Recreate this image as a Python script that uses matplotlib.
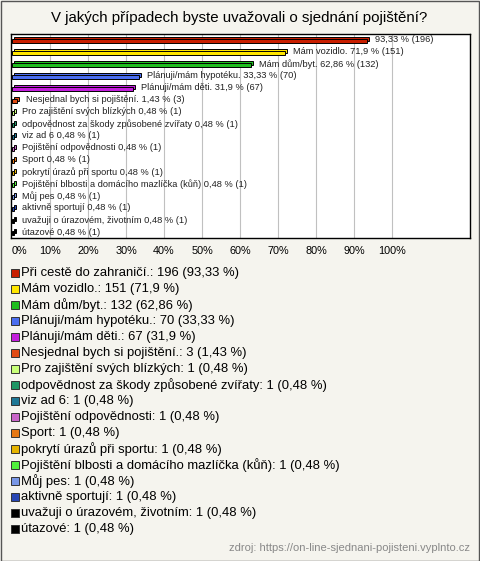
import matplotlib
matplotlib.use("Agg")
import matplotlib.pyplot as plt
from matplotlib.patches import Rectangle

plt.rcParams['font.family'] = ['Liberation Sans', 'DejaVu Sans']

title = "V jakých případech byste uvažovali o sjednání pojištění?"
categories = [
    "Při cestě do zahraničí.", "Mám vozidlo.", "Mám dům/byt.", "Plánuji/mám hypotéku.",
    "Plánuji/mám děti.", "Nesjednal bych si pojištění.", "Pro zajištění svých blízkých",
    "odpovědnost za škody způsobené zvířaty", "viz ad 6", "Pojištění odpovědnosti",
    "Sport", "pokrytí úrazů při sportu", "Pojištění blbosti a domácího mazlíčka (kůň)",
    "Můj pes", "aktivně sportují", "uvažuji o úrazovém, životním", "útazové",
]
counts = [196, 151, 132, 70, 67, 3, 1, 1, 1, 1, 1, 1, 1, 1, 1, 1, 1]
percents = [93.33, 71.9, 62.86, 33.33, 31.9, 1.43, 0.48, 0.48, 0.48, 0.48, 0.48,
            0.48, 0.48, 0.48, 0.48, 0.48, 0.48]
colors = ["#C81E00", "#FFE600", "#1EBE1E", "#4B6EF0", "#C31EDC", "#E14B14", "#C8FF78",
          "#1E9664", "#1E7896", "#C864C8", "#E67814", "#E6B400", "#50F03C", "#7896E6",
          "#2846B4", "#000000", "#000000"]
xticks = [0, 10, 20, 30, 40, 50, 60, 70, 80, 90, 100]
source = "zdroj: https://on-line-sjednani-pojisteni.vyplnto.cz"

def fmt(v):
    s = f"{v:.2f}".rstrip("0").rstrip(".")
    return s.replace(".", ",")

W, H = 480, 561
fig = plt.figure(figsize=(W / 100, H / 100), dpi=100)
fig.patch.set_facecolor("#F5F4EE")
fig.patches.append(Rectangle((0.5 / W, 0.5 / H), (W - 1.5) / W, (H - 1.5) / H,
                             transform=fig.transFigure, fill=False,
                             edgecolor="#555555", linewidth=1))

fig.text(239 / W, 1 - 18 / H, title, ha="center", va="center", fontsize=10.8)

# plot area
left_px, right_px, top_px, bot_px = 11, 470, 34, 238
ax = fig.add_axes([left_px / W, 1 - bot_px / H, (right_px - left_px) / W, (bot_px - top_px) / H])
ax.set_facecolor("white")
px_x = 3.8  # px per percent
x0 = -1 / px_x
ax.set_xlim(x0, x0 + (right_px - left_px) / px_x)
n = len(categories)
ax.set_ylim(n - 1 + 5 / 12, -7 / 12)
for s in ax.spines.values():
    s.set_color("black")
    s.set_linewidth(1)
ax.set_xticks([])
ax.set_yticks([])
for t in xticks[1:]:
    ax.axvline(t, color="#C0C0C0", linewidth=0.8, zorder=0)

ys = list(range(n))
h = 4 / 12
dx = 2 / px_x
dy = 2 / 12
ax.barh([y - dy for y in ys], percents, left=dx, height=h, color=colors,
        edgecolor="black", linewidth=0.7, zorder=2)
ax.barh(ys, percents, left=0, height=h, color=colors, edgecolor="black",
        linewidth=0.7, zorder=3)

for i, (c, p, k) in enumerate(zip(categories, percents, counts)):
    lab = f"{fmt(p)} % ({k})" if i == 0 else f"{c} {fmt(p)} % ({k})"
    ax.annotate(lab, (p + dx, i - dy / 2), xytext=(4.5, 0), textcoords="offset points",
                ha="left", va="center", fontsize=6.7, color="#222222", zorder=4)

# x tick labels
for t in xticks:
    ax.annotate(f"{t}%", (t, 0), xycoords=("data", "axes fraction"),
                xytext=(0, -12 * 0.75), textcoords="offset points",
                ha="left" if t == 0 else "center", va="center", fontsize=7.8)

# legend
for i, (c, p, k, col) in enumerate(zip(categories, percents, counts, colors)):
    y = 1 - (273 + 16 * i) / H
    fig.patches.append(Rectangle((11 / W, y - 4 / H), 8 / W, 8 / H, transform=fig.transFigure,
                                 facecolor=col, edgecolor="#333333", linewidth=0.7))
    fig.text(21 / W, y, f"{c}: {k} ({fmt(p)} %)", ha="left", va="center", fontsize=9.4)

fig.text(470 / W, 1 - 548 / H, source, ha="right", va="center", fontsize=8, color="#888888")

fig.savefig("out.png", dpi=100, facecolor=fig.get_facecolor())
